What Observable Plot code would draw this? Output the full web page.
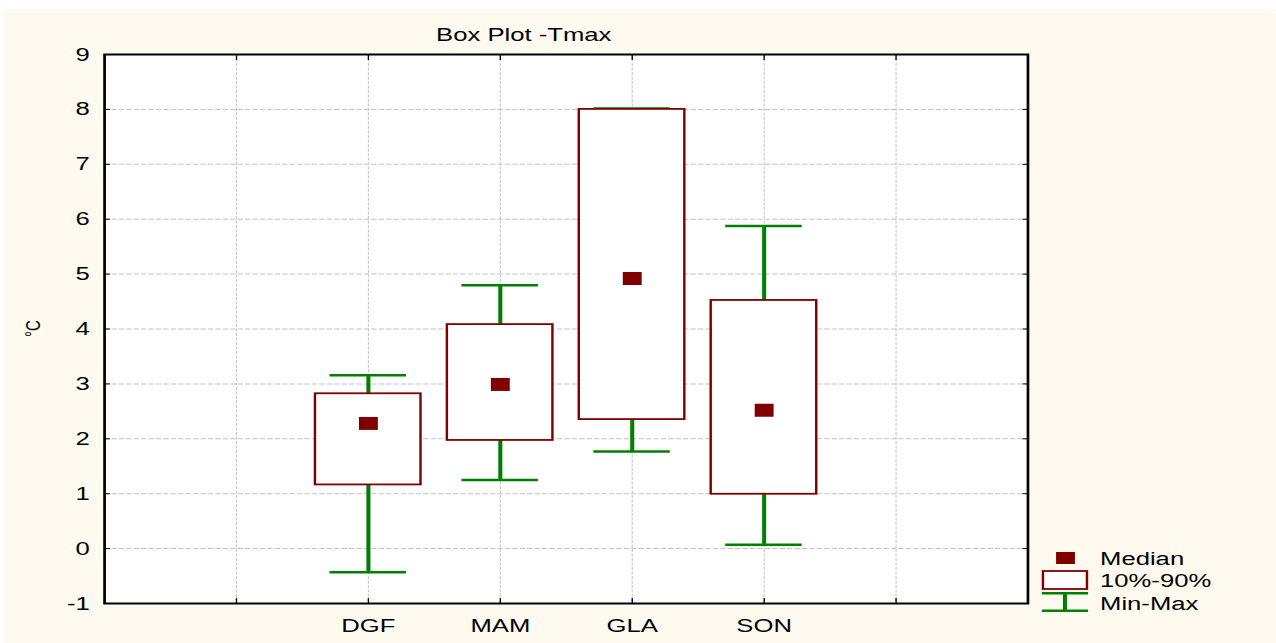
<!DOCTYPE html>
<html>
<head>
<meta charset="utf-8">
<script src="https://cdn.jsdelivr.net/npm/d3@7"></script>
<script src="https://cdn.jsdelivr.net/npm/@observablehq/plot@0.6"></script>
<style>
  html, body { margin: 0; padding: 0; background: #ffffff; }
  #wrap {
    position: absolute; left: 4px; top: 9px; width: 942px; height: 634px;
    background: #fffaf0; transform: scaleX(1.35); transform-origin: 0 0;
    font-family: "Liberation Sans", Arial, sans-serif; color: #000;
  }
  #title {
    position: absolute; left: 0; top: 16px; width: 770px; text-align: center;
    font-size: 19px; line-height: 19px;
  }
  #chart { position: absolute; left: 0; top: 0; }
  #legend { position: absolute; left: 760px; top: 538px; }
</style>
</head>
<body>
<div id="wrap">
  <div id="chart"></div>
  <div id="title">Box Plot -Tmax</div>
  <svg id="legend" width="180" height="72" font-family="Liberation Sans, Arial, sans-serif" font-size="19">
    <rect x="19.3" y="5" width="14" height="12" fill="#800000"></rect>
    <rect x="9.6" y="24" width="32.6" height="18" fill="#ffffff" stroke="#800000" stroke-width="1.8"></rect>
    <line x1="8.9" x2="43" y1="46.3" y2="46.3" stroke="#008000" stroke-width="2.5"></line>
    <line x1="8.9" x2="43" y1="63.7" y2="63.7" stroke="#008000" stroke-width="2.5"></line>
    <line x1="25.9" x2="25.9" y1="46.3" y2="63.7" stroke="#008000" stroke-width="3"></line>
    <text x="51.9" y="11" dy="0.35em">Median</text>
    <text x="51.9" y="33" dy="0.35em">10%-90%</text>
    <text x="51.9" y="56" dy="0.35em">Min-Max</text>
  </svg>
</div>
<script>
// ---- data ----
const categories = ["DGF", "MAM", "GLA", "SON"];
const minVals    = [-0.43, 1.25, 1.77, 0.07];
const p10Vals    = [1.16, 1.97, 2.35, 0.99];
const medianVals = [2.28, 2.99, 4.92, 2.52];
const p90Vals    = [2.82, 4.08, 8.00, 4.52];
const maxVals    = [3.14, 4.78, 8.00, 5.86];
const yTicks     = [-1, 0, 1, 2, 3, 4, 5, 6, 7, 8, 9];
const xTicks     = [1, 2, 3, 4, 5, 6];
const yLabel     = "°C";

const table = categories.map((c, i) => ({
  cat: c, pos: i + 2,
  min: minVals[i], p10: p10Vals[i], median: medianVals[i], p90: p90Vals[i], max: maxVals[i]
}));

const green = "#008000", maroon = "#800000";
const rectSymbol = { draw(ctx) { ctx.rect(-7, -6.5, 14, 13); } };

const chart = Plot.plot({
  width: 942, height: 634,
  marginLeft: 74, marginRight: 184, marginTop: 45, marginBottom: 40,
  x: { domain: [0, 7], axis: null },
  y: { domain: [-1, 9], axis: null },
  style: { background: "transparent", fontFamily: "Liberation Sans, Arial, sans-serif", color: "#000", overflow: "visible" },
  marks: [
    Plot.frame({ fill: "white" }),
    Plot.gridY(yTicks.slice(1, -1), { stroke: "#c4c4c4", strokeOpacity: 1, strokeDasharray: "4,1.5" }),
    Plot.gridX(xTicks, { stroke: "#c4c4c4", strokeOpacity: 1, strokeDasharray: "3,1.5", strokeWidth: 0.8 }),
    Plot.ruleX(table, { x: "pos", y1: "min", y2: "max", stroke: green, strokeWidth: 3 }),
    Plot.ruleY(table, { y: "min", x1: d => d.pos - 0.29, x2: d => d.pos + 0.29, stroke: green, strokeWidth: 2.5 }),
    Plot.ruleY(table, { y: "max", x1: d => d.pos - 0.29, x2: d => d.pos + 0.29, stroke: green, strokeWidth: 2.5, dy: -1 }),
    Plot.rect(table, { x1: d => d.pos - 0.4, x2: d => d.pos + 0.4, y1: "p10", y2: "p90", fill: "white", stroke: maroon, strokeWidth: 1.8 }),
    Plot.dot(table, { x: "pos", y: "median", symbol: rectSymbol, fill: maroon }),
    Plot.axisY(yTicks, { anchor: "left", label: null, tickSize: -4.5, tickPadding: 15.5, fontSize: 19,
      tickFormat: d => String(d) }),
    Plot.axisY(yTicks, { anchor: "right", label: null, tickSize: -4.5, tickFormat: () => "" }),
    Plot.axisX(xTicks, { anchor: "bottom", label: null, tickSize: -5, tickPadding: 20, fontSize: 19,
      tickFormat: d => categories[d - 2] ?? "" }),
    Plot.axisX(xTicks, { anchor: "top", label: null, tickSize: -5, tickFormat: () => "" }),
    Plot.text([yLabel], { frameAnchor: "left", dx: -52.6, dy: 8, rotate: -90, fontSize: 15, text: d => d }),
    Plot.frame({ stroke: "black", strokeWidth: 2 })
  ]
});
document.getElementById("chart").appendChild(chart);
</script>
</body>
</html>
